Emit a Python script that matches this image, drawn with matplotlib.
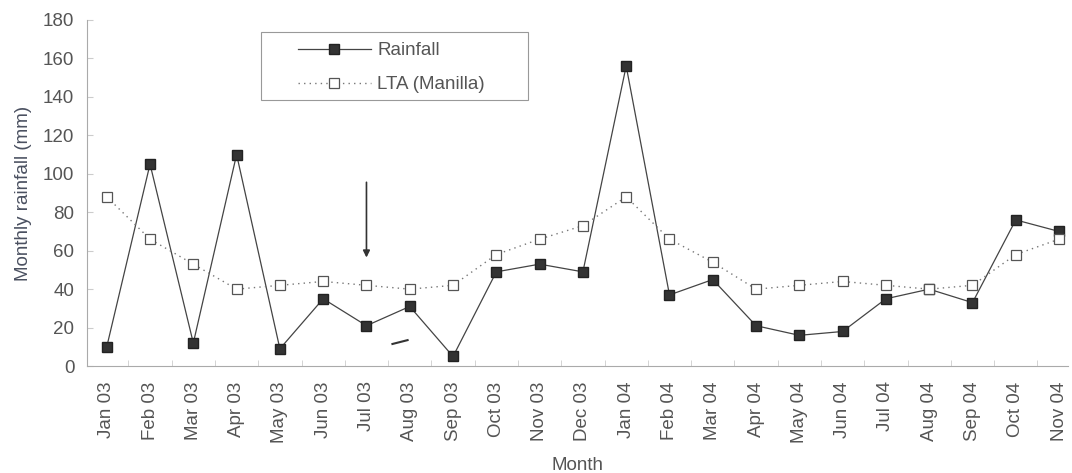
import matplotlib.pyplot as plt
from matplotlib.patches import Rectangle

plt.rcParams['font.family'] = ['Liberation Sans', 'DejaVu Sans']

# ----- Data -----
months = ['Jan 03', 'Feb 03', 'Mar 03', 'Apr 03', 'May 03', 'Jun 03', 'Jul 03',
          'Aug 03', 'Sep 03', 'Oct 03', 'Nov 03', 'Dec 03', 'Jan 04', 'Feb 04',
          'Mar 04', 'Apr 04', 'May 04', 'Jun 04', 'Jul 04', 'Aug 04', 'Sep 04',
          'Oct 04', 'Nov 04']
rainfall = [10, 105, 12, 110, 9, 35, 21, 31, 5, 49, 53, 49, 156, 37,
            45, 21, 16, 18, 35, 40, 33, 76, 70]
lta = [88, 66, 53, 40, 42, 44, 42, 40, 42, 58, 66, 73, 88, 66,
       54, 40, 42, 44, 42, 40, 42, 58, 66]

grey = '#555555'
fs = 13.5
x = list(range(len(months)))

fig = plt.figure(figsize=(10.72, 4.73), dpi=100)
ax = fig.add_axes([0.081, 0.226, 0.915, 0.732])

ax.plot(x, rainfall, color='#444444', lw=0.9, marker='s', ms=7,
        mfc='#333333', mec='#222222', label='Rainfall')
ax.plot(x, lta, color='#777777', lw=1.0, ls=(0, (1, 3)), marker='s', ms=7,
        mfc='white', mec='#555555', mew=0.9, label='LTA (Manilla)')

# arrow marking Jul 03
ax.annotate('', xy=(6, 55), xytext=(6, 97),
            arrowprops=dict(arrowstyle='-|>', color='#333333', lw=1.2,
                            mutation_scale=10))
ax.plot([6.6, 6.95], [11.5, 13.5], color='#333333', lw=1.5)

ax.set_xlim(-0.46, 22.2)
ax.set_ylim(0, 180)
ax.set_yticks(range(0, 181, 20))
ax.set_xticks(x)
ax.set_xticklabels(months, rotation=90, fontsize=fs, color=grey)
ax.set_xticks([i + 0.5 for i in x[:-1]], minor=True)
ax.tick_params(axis='y', labelsize=fs, labelcolor=grey, color='#cccccc',
               length=4, direction='in', pad=9)
ax.tick_params(axis='x', which='major', length=0, pad=11)
ax.tick_params(axis='x', which='minor', color='#cccccc', length=4, direction='in')

for s in ['top', 'right']:
    ax.spines[s].set_visible(False)
for s in ['left', 'bottom']:
    ax.spines[s].set_color('#aaaaaa')

ax.set_ylabel('Monthly rainfall (mm)', fontsize=fs, color='#4a5060', labelpad=8)
ax.set_xlabel('Month', fontsize=fs, color=grey, labelpad=10)

# legend box drawn separately (wider than the legend content)
ax.add_patch(Rectangle((0.178, 0.769), 0.272, 0.196, transform=ax.transAxes,
                       fill=True, facecolor='white', edgecolor='#999999',
                       lw=0.8, zorder=4))
leg = ax.legend(loc='upper left', bbox_to_anchor=(0.215, 0.935), fontsize=fs,
                frameon=False, handlelength=3.9, handletextpad=0.35,
                borderpad=0, labelspacing=0.9, borderaxespad=0)
leg.set_zorder(5)
for t in leg.get_texts():
    t.set_color(grey)

plt.savefig('out.png', dpi=100)
